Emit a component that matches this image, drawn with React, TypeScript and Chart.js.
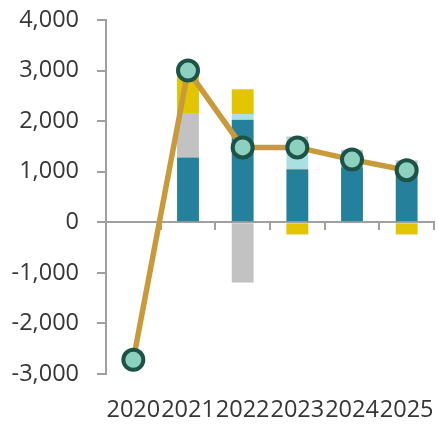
import React, { useEffect, useRef } from "react";
import { Chart, registerables } from "chart.js";

Chart.register(...registerables);

const years = ["2020", "2021", "2022", "2023", "2024", "2025"];
const tealValues = [null, 1280, 2030, 1040, 1090, 1050];
const redValues = [null, null, null, 15, 15, null];
const lightBlueValues = [null, null, 110, 600, 180, null];
const grayValues = [null, 880, -1190, 40, 150, 175];
const yellowValues = [null, 840, 490, -240, null, -240];
const totalValues = [-2720, 3000, 1480, 1480, 1240, 1030];

const yMin = -3000;
const yMax = 4000;
const yStep = 1000;

const FONT = "'Open Sans', 'Noto Sans', sans-serif";
const AXIS_COLOR = "#a0a0a0";
const TEXT_COLOR = "#363636";

export default function App() {
  const canvasRef = useRef<HTMLCanvasElement | null>(null);

  useEffect(() => {
    const canvas = canvasRef.current;
    if (!canvas) return;
    const barCommon = {
      type: "bar" as const,
      stack: "bars",
      order: 2,
      borderWidth: 0,
      barPercentage: 0.4,
      categoryPercentage: 1,
    };
    const chart = new Chart(canvas, {
      type: "bar",
      data: {
        labels: years,
        datasets: [
          {
            type: "line",
            label: "Total",
            data: totalValues,
            stack: "line",
            order: 0,
            borderColor: "#c99a3a",
            borderWidth: 5.5,
            pointRadius: 10,
            pointHoverRadius: 10,
            pointBorderWidth: 4,
            pointBackgroundColor: "#8cd0c0",
            pointBorderColor: "#1d5246",
            tension: 0,
            clip: false,
            xAxisID: "x",
          } as any,
          { ...barCommon, label: "A", data: tealValues, backgroundColor: "#25819b" },
          { ...barCommon, label: "B", data: redValues, backgroundColor: "#e0524a" },
          { ...barCommon, label: "C", data: lightBlueValues, backgroundColor: "#aae0e2" },
          { ...barCommon, label: "D", data: grayValues, backgroundColor: "#c2c2c2" },
          { ...barCommon, label: "E", data: yellowValues, backgroundColor: "#e3c400" },
        ],
      },
      options: {
        responsive: false,
        animation: false,
        devicePixelRatio: 1,
        layout: { autoPadding: false, padding: { top: 20, right: 4, left: 0, bottom: 0 } },
        plugins: {
          legend: { display: false },
          tooltip: { enabled: false },
        },
        scales: {
          x: {
            type: "category",
            stacked: true,
            offset: true,
            grid: { display: false, drawTicks: false },
            border: { display: false },
            ticks: {
              color: TEXT_COLOR,
              font: { family: FONT, size: 23.5 },
              padding: 22,
              maxRotation: 0,
              autoSkip: false,
            },
            afterFit: (scale: any) => {
              scale.height = 51;
              scale.paddingLeft = 0;
              scale.paddingRight = 0;
            },
          },
          x2: {
            type: "category",
            labels: years,
            offset: true,
            position: { y: 0 } as any,
            grid: {
              offset: true,
              drawOnChartArea: false,
              tickLength: 7,
              color: AXIS_COLOR,
              lineWidth: 2,
            },
            border: { display: true, color: AXIS_COLOR, width: 2 },
            ticks: { display: false },
            afterFit: (scale: any) => {
              scale.height = 0;
              scale.paddingLeft = 0;
              scale.paddingRight = 0;
            },
          },
          y: {
            stacked: true,
            min: yMin,
            max: yMax,
            grid: {
              drawOnChartArea: false,
              tickLength: 9,
              color: AXIS_COLOR,
              lineWidth: 2,
            },
            border: { display: true, color: AXIS_COLOR, width: 2 },
            ticks: {
              stepSize: yStep,
              color: TEXT_COLOR,
              padding: 18,
              font: { family: FONT, size: 23.5 },
              callback: (v: any) => Number(v).toLocaleString("en-US"),
            },
            afterFit: (scale: any) => {
              scale.width = 106;
              scale.paddingTop = 0;
              scale.paddingBottom = 0;
            },
          },
        },
      } as any,
    });
    return () => chart.destroy();
  }, []);

  return (
    <div style={{ position: "absolute", left: 0, top: 0, width: 438, height: 425, background: "#fff" }}>
      <canvas ref={canvasRef} width={438} height={425} style={{ width: 438, height: 425, display: "block" }} />
    </div>
  );
}
